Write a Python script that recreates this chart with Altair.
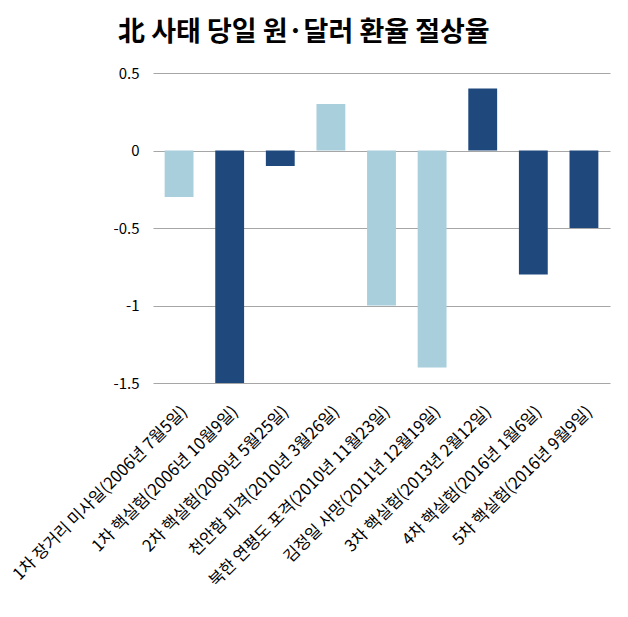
import altair as alt
import pandas as pd

events = [
    "1차 장거리 미사일(2006년 7월5일)",
    "1차 핵실험(2006년 10월9일)",
    "2차 핵실험(2009년 5월25일)",
    "천안함 피격(2010년 3월26일)",
    "북한 연평도 포격(2010년 11월23일)",
    "김정일 사망(2011년 12월19일)",
    "3차 핵실험(2013년 2월12일)",
    "4차 핵실험(2016년 1월6일)",
    "5차 핵실험(2016년 9월9일)",
]
values = [-0.3, -1.5, -0.1, 0.3, -1.0, -1.4, 0.4, -0.8, -0.5]
kinds = ["기타", "핵실험", "핵실험", "기타", "기타", "기타", "핵실험", "핵실험", "핵실험"]
y_ticks = [-1.5, -1, -0.5, 0, 0.5]

df = pd.DataFrame({"event": events, "value": values, "kind": kinds})

FONT = "Noto Sans CJK KR"

chart = alt.Chart(df).mark_bar().encode(
    x=alt.X(
        "event:N",
        sort=None,
        title=None,
        scale=alt.Scale(paddingInner=0.43, paddingOuter=0.23),
        axis=alt.Axis(
            labelAngle=-45,
            labelFontSize=16.5,
            labelFont=FONT,
            labelColor="#000000",
            ticks=False,
            domain=False,
            grid=False,
            labelPadding=20,
            labelLimit=400,
        ),
    ),
    y=alt.Y(
        "value:Q",
        title=None,
        scale=alt.Scale(domain=[-1.5, 0.5], nice=False, zero=True),
        axis=alt.Axis(
            values=y_ticks,
            labelExpr="'' + datum.value",
            labelFontSize=15,
            labelFont=FONT,
            labelColor="#000000",
            ticks=False,
            domain=False,
            grid=True,
            gridColor="#A6A6A6",
            gridWidth=1,
            labelPadding=14,
        ),
    ),
    color=alt.Color(
        "kind:N",
        scale=alt.Scale(domain=["기타", "핵실험"], range=["#A9CEDC", "#1F497D"]),
        legend=None,
    ),
).properties(
    width=457,
    height=310,
    title=alt.TitleParams(
        "北 사태 당일 원·달러 환율 절상율",
        anchor="start",
        frame="group",
        dx=-35,
        offset=19,
        fontSize=27,
        fontWeight="bold",
        font=FONT,
        color="#000000",
    ),
    autosize=alt.AutoSizeParams(type="none"),
    padding={"left": 145, "top": 65, "right": 10, "bottom": 220},
).configure_view(stroke=None)

chart.save("out.html", embed_options={"renderer": "svg", "actions": False})
